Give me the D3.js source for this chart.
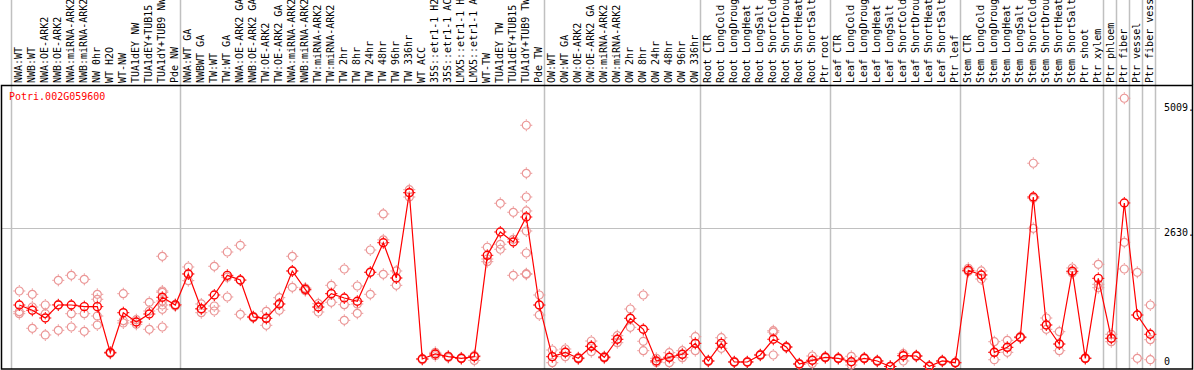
<!DOCTYPE html>
<html>
<head>
<meta charset="utf-8">
<script src="https://cdn.jsdelivr.net/npm/d3@7"></script>
<style>
  html, body { margin: 0; padding: 0; background: #fff; }
  svg { display: block; }
  text { font-family: "DejaVu Sans Mono", monospace; font-size: 10px; }
</style>
</head>
<body>
<div id="chart"></div>
<script>
const geneName = 'Potri.002G059600';

const categories = [
  'NWA:WT', 'NWB:WT', 'NWA:OE-ARK2', 'NWB:OE-ARK2', 'NWA:miRNA-ARK2', 'NWB:miRNA-ARK2',
  'NW 0hr', 'WT H2O', 'WT-NW', 'TUA1dEY NW', 'TUA1dEY+TUB15', 'TUA1dY+TUB9 NW', 'Pde NW',
  'NWA:WT GA', 'NWBWT GA', 'TW:WT', 'TW:WT GA', 'NWA:OE-ARK2 GA', 'NWB:OE-ARK2 GA',
  'TW:OE-ARK2', 'TW:OE-ARK2 GA', 'NWA:miRNA-ARK2', 'NWB:miRNA-ARK2', 'TW:miRNA-ARK2',
  'TW:miRNA-ARK2', 'TW 2hr', 'TW 8hr', 'TW 24hr', 'TW 48hr', 'TW 96hr', 'TW 336hr',
  'WT ACC', '35S::etr1-1 H2', '35S::etr1-1 AC', 'LMX5::etr1-1 H', 'LMX5::etr1-1 A',
  'WT-TW', 'TUA1dEY TW', 'TUA1dEY+TUB15', 'TUA1dY+TUB9 TW', 'Pde TW',
  'OW:WT', 'OW:WT GA', 'OW:OE-ARK2', 'OW:OE-ARK2 GA', 'OW:miRNA-ARK2', 'OW:miRNA-ARK2',
  'OW 2hr', 'OW 8hr', 'OW 24hr', 'OW 48hr', 'OW 96hr', 'OW 336hr',
  'Root CTR', 'Root LongCold', 'Root LongDroug', 'Root LongHeat', 'Root LongSalt',
  'Root ShortCold', 'Root ShortDrou', 'Root ShortHeat', 'Root ShortSalt', 'Ptr root',
  'Leaf CTR', 'Leaf LongCold', 'Leaf LongDroug', 'Leaf LongHeat', 'Leaf LongSalt',
  'Leaf ShortCold', 'Leaf ShortDrou', 'Leaf ShortHeat', 'Leaf ShortSalt', 'Ptr leaf',
  'Stem CTR', 'Stem LongCold', 'Stem LongDroug', 'Stem LongHeat', 'Stem LongSalt',
  'Stem ShortCold', 'Stem ShortDrou', 'Stem ShortHeat', 'Stem ShortSalt', 'Ptr shoot',
  'Ptr xylem', 'Ptr phloem', 'Ptr fiber', 'Ptr vessel', 'Ptr fiber vess'
];

// mean expression per sample
const meanValues = [
  1170, 1070, 923, 1170, 1170, 1139, 1139, 263, 1024, 847,
  999, 1317, 1170, 1761, 1100, 1361, 1735, 1646, 942, 917,
  1190, 1818, 1469, 1132, 1386, 1304, 1241, 1793, 2356, 1684,
  3308, 143, 238, 187, 156, 187, 2116, 2560, 2370, 2845,
  1170, 187, 270, 156, 384, 175, 518, 917, 708, 105,
  175, 232, 441, 105, 441, 86, 86, 219, 518, 371,
  48, 118, 175, 156, 91, 156, 105, 0, 206, 200,
  4, 105, 72, 1831, 1742, 270, 365, 556, 3226, 790,
  428, 1812, 156, 1678, 537, 3112, 980, 613
];

// individual replicates per sample
const replicateValues = [
  [1437, 1043, 1005], [1374, 1132, 727], [1170, 1005, 600], [1640, 689, 1180],
  [1735, 1005, 752], [1659, 1005, 670], [1374, 1279, 961, 790], [250, 275, 265],
  [1386, 872, 828], [891, 803, 847], [1222, 1056, 708], [2097, 1437, 1412, 1247, 1170, 1089, 752],
  [1150, 1180, 1180], [1894, 1634, 1761], [1190, 1024, 1090], [1907, 1151, 1056],
  [2179, 1323, 1700], [2307, 993, 1640], [930, 955, 940], [1050, 784, 917],
  [1310, 1070, 1190], [2097, 1507, 1818], [1494, 1443, 1469], [1195, 1037, 1132],
  [1545, 1222, 1386], [1856, 1177, 879], [1532, 1190, 1012], [2217, 1374, 1793],
  [2903, 1755, 2410], [1818, 1545, 1684], [3365, 3226, 3308], [150, 130, 143],
  [270, 205, 238], [200, 170, 187], [165, 150, 156], [209, 115, 200],
  [2269, 2046, 1995], [3106, 2326, 2231], [2935, 1735, 2421],
  [4591, 3677, 3226, 2960, 2579, 2160, 1766, 1755],
  [1361, 980, 1170], [314, 72, 187], [333, 187, 270], [170, 145, 156],
  [485, 282, 384], [190, 160, 175], [586, 453, 518], [1094, 746, 917],
  [1361, 480, 301], [156, 76, 105], [263, 72, 175], [301, 168, 232],
  [567, 301, 441], [115, 95, 105], [548, 346, 441], [95, 80, 86],
  [95, 80, 86], [230, 210, 219], [681, 219, 654], [380, 360, 371],
  [55, 40, 48], [200, 55, 118], [185, 165, 175], [165, 150, 156],
  [194, 28, 91], [165, 150, 156], [115, 95, 105], [5, 0, 0],
  [244, 105, 206], [210, 190, 200], [10, 0, 4], [115, 95, 105],
  [80, 65, 72], [1806, 1870, 1831], [1818, 1665, 1742], [472, 129, 270],
  [499, 270, 365], [570, 545, 556], [3868, 2630, 3200], [923, 708, 790],
  [662, 301, 428], [1875, 1780, 1812], [165, 150, 156], [1945, 1564, 1500],
  [613, 472, 537], [5105, 2364, 1856], [1793, 156, 980], [1170, 510, 129]
];

const tickValues = [5009, 2630, 0];
const tickLabels = ['5009.', '2630.', '0'];
const gridValues = [2630];
// group separators sit on the left of these sample indices
const groupStarts = [0, 13, 41, 53, 63, 73, 84, 85, 86, 87, 88];

const meanColor = '#ff0000';
const repColor = '#eb9696';
const gridColor = '#c0c0c0';

function drawChart() {
    var width = 1194, height = 370;
    var plotTop = 85, plotBottom = 369, plotLeft = 1.5, plotRight = 1192.5;

    var x = d3.scaleLinear().domain([0, categories.length - 1]).range([19.3, 1150.3]);
    var y = d3.scaleLinear().domain([0, 5009]).range([366.5, 103.3]);

    var svg = d3.select('#chart').append('svg')
        .attr('width', width)
        .attr('height', height);

    // group separators, through the label area and the plot
    svg.selectAll('line.sep')
        .data(groupStarts)
        .enter().append('line')
        .attr('class', 'sep')
        .attr('x1', function(d) { return Math.round(x(d) - 8.3) + 0.5; })
        .attr('x2', function(d) { return Math.round(x(d) - 8.3) + 0.5; })
        .attr('y1', 0)
        .attr('y2', plotBottom)
        .style('stroke', gridColor)
        .style('stroke-width', 1.5);

    // horizontal grid line
    svg.selectAll('line.grid')
        .data(gridValues)
        .enter().append('line')
        .attr('class', 'grid')
        .attr('x1', plotLeft)
        .attr('x2', 1160)
        .attr('y1', function(d) { return Math.round(y(d)) + 0.5; })
        .attr('y2', function(d) { return Math.round(y(d)) + 0.5; })
        .style('stroke', gridColor)
        .style('stroke-width', 1.2);

    // frame of the plot and right border of the label area
    svg.append('rect')
        .attr('x', plotLeft)
        .attr('y', plotTop + 0.5)
        .attr('width', plotRight - plotLeft)
        .attr('height', plotBottom - plotTop - 0.5)
        .style('fill', 'none')
        .style('stroke', '#000')
        .style('stroke-width', 1.5);
    svg.append('line')
        .attr('x1', plotRight).attr('x2', plotRight)
        .attr('y1', 0).attr('y2', plotTop)
        .style('stroke', '#000')
        .style('stroke-width', 1.5);

    // sample labels, rotated
    svg.selectAll('text.cat')
        .data(categories)
        .enter().append('text')
        .attr('class', 'cat')
        .attr('transform', function(d, i) { return 'translate(' + (x(i) + 2.5) + ',83) rotate(-90)'; })
        .text(function(d) { return d; })
        .style('fill', '#000');

    // gene name
    svg.append('text')
        .attr('x', 9)
        .attr('y', 100)
        .text(geneName)
        .style('fill', meanColor);

    // y tick labels on the right
    svg.selectAll('text.tick')
        .data(tickValues)
        .enter().append('text')
        .attr('class', 'tick')
        .attr('x', 1164)
        .attr('y', function(d) { return Math.min(y(d) + 7.5, 364.5); })
        .text(function(d, i) { return tickLabels[i]; })
        .style('fill', '#000');

    function marker(sel, color, sw) {
        sel.append('circle')
            .attr('r', 4)
            .style('fill', 'none')
            .style('stroke', color)
            .style('stroke-width', sw);
        sel.append('path')
            .attr('d', 'M0,-6V-4.5M0,4.5V6M-6,0H-4.5M4.5,0H6')
            .style('stroke', color)
            .style('stroke-width', 1);
    }

    // replicates
    var reps = [];
    replicateValues.forEach(function(list, i) {
        list.forEach(function(v) { reps.push({i: i, v: v}); });
    });
    svg.selectAll('g.rep')
        .data(reps)
        .enter().append('g')
        .attr('class', 'rep')
        .attr('transform', function(d) { return 'translate(' + x(d.i) + ',' + y(d.v) + ')'; })
        .call(marker, repColor, 1.2);

    // mean line
    var line = d3.line()
        .x(function(d, i) { return x(i); })
        .y(function(d) { return y(d); });
    svg.append('path')
        .datum(meanValues)
        .attr('d', line)
        .style('fill', 'none')
        .style('stroke', meanColor)
        .style('stroke-width', 1.2);

    // mean markers
    svg.selectAll('g.mean')
        .data(meanValues)
        .enter().append('g')
        .attr('class', 'mean')
        .attr('transform', function(d, i) { return 'translate(' + x(i) + ',' + y(d) + ')'; })
        .call(marker, meanColor, 1.4);
}

drawChart();
</script>
</body>
</html>
